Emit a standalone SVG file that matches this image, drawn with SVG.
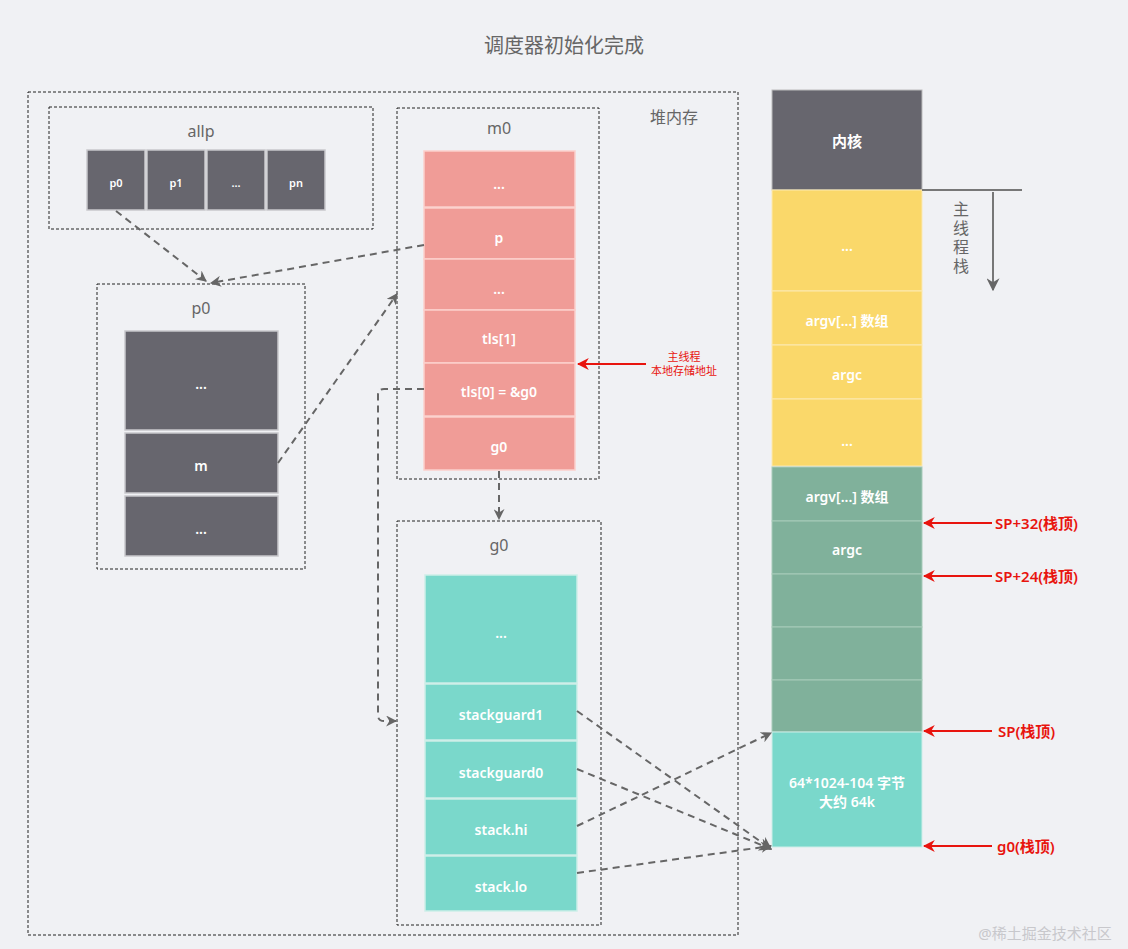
<svg xmlns="http://www.w3.org/2000/svg" width="1128" height="949" viewBox="0 0 1128 949">
<style>
text{font-family:"Noto Sans","Noto Sans CJK SC",sans-serif;text-anchor:middle;dominant-baseline:central}
.box{fill:none;stroke:#222;stroke-width:1;stroke-dasharray:3,2}
.lbl{fill:#666;font-size:16px}
.w{fill:#fff;font-size:14px;font-weight:600}
.dark{fill:#67666e;stroke:#c8c8cc;stroke-width:1.5}
.pink{fill:#f09c97;stroke:#fbd0cc;stroke-width:1.5}
.teal{fill:#7ad8cb;stroke:#cdeee8;stroke-width:1.5}
.yel{fill:#fad86a;stroke:#fbe9b2;stroke-width:1}
.grn{fill:#80b19b;stroke:#a7cbb9;stroke-width:1}
.con{fill:none;stroke:#666;stroke-width:2;stroke-dasharray:7,5}
.red{stroke:#e8140e;stroke-width:2;fill:none}
.rt{fill:#e8140e;font-size:15px;font-weight:600;text-anchor:start}
</style>
<defs>
<marker id="ga" viewBox="0 0 10 10" refX="9" refY="5" markerWidth="11" markerHeight="11" orient="auto" markerUnits="userSpaceOnUse">
<path d="M0,0 L10,5 L0,10 L3,5 z" fill="#666"/>
</marker>
<marker id="ra" viewBox="0 0 10 10" refX="9" refY="5" markerWidth="12" markerHeight="12" orient="auto" markerUnits="userSpaceOnUse">
<path d="M0,0 L10,5 L0,10 L3,5 z" fill="#e8140e"/>
</marker>
<marker id="da" viewBox="0 0 10 10" refX="9" refY="5" markerWidth="13" markerHeight="13" orient="auto" markerUnits="userSpaceOnUse">
<path d="M0,0 L10,5 L0,10 L3,5 z" fill="#666"/>
</marker>
</defs>
<rect width="1128" height="949" fill="#f0f1f4"/>
<text x="564" y="45" style="fill:#666;font-size:20px">调度器初始化完成</text>

<g id="heap">
<rect class="box" x="28" y="92" width="710" height="843"/>
<text class="lbl" x="674" y="117">堆内存</text>
</g>

<g id="allp">
<rect class="box" x="49" y="107" width="324" height="122"/>
<text class="lbl" x="201" y="131">allp</text>
<rect class="dark" x="87" y="150" width="58" height="60"/><text class="w" x="116" y="182" style="font-size:11px">p0</text>
<rect class="dark" x="147" y="150" width="58" height="60"/><text class="w" x="176" y="182" style="font-size:11px">p1</text>
<rect class="dark" x="207" y="150" width="58" height="60"/><text class="w" x="236" y="182" style="font-size:11px">...</text>
<rect class="dark" x="267" y="150" width="58" height="60"/><text class="w" x="296" y="182" style="font-size:11px">pn</text>
</g>

<g id="p0">
<rect class="box" x="97" y="284" width="208" height="285"/>
<text class="lbl" x="201" y="308">p0</text>
<rect class="dark" x="125" y="331" width="153" height="99"/><text class="w" x="201" y="383">...</text>
<rect class="dark" x="125" y="433" width="153" height="60"/><text class="w" x="201" y="465">m</text>
<rect class="dark" x="125" y="496" width="153" height="60"/><text class="w" x="201" y="528">...</text>
</g>

<g id="m0">
<rect class="box" x="397" y="108" width="202" height="371"/>
<text class="lbl" x="499" y="128">m0</text>
<rect class="pink" x="424" y="151" width="151" height="56"/><text class="w" x="499" y="183">...</text>
<rect class="pink" x="424" y="208" width="151" height="51"/><text class="w" x="499" y="237">p</text>
<rect class="pink" x="424" y="259" width="151" height="51"/><text class="w" x="499" y="288">...</text>
<rect class="pink" x="424" y="310" width="151" height="53"/><text class="w" x="499" y="338">tls[1]</text>
<rect class="pink" x="424" y="363" width="151" height="53"/><text class="w" x="499" y="391">tls[0] = &amp;g0</text>
<rect class="pink" x="424" y="417" width="151" height="53"/><text class="w" x="499" y="446">g0</text>
</g>

<g id="g0">
<rect class="box" x="397" y="521" width="204" height="404"/>
<text class="lbl" x="499" y="545">g0</text>
<rect class="teal" x="425" y="575" width="152" height="108"/><text class="w" x="501" y="632">...</text>
<rect class="teal" x="425" y="684" width="152" height="56"/><text class="w" x="501" y="714">stackguard1</text>
<rect class="teal" x="425" y="741" width="152" height="57"/><text class="w" x="501" y="772">stackguard0</text>
<rect class="teal" x="425" y="799" width="152" height="56"/><text class="w" x="501" y="829">stack.hi</text>
<rect class="teal" x="425" y="856" width="152" height="55"/><text class="w" x="501" y="886">stack.lo</text>
</g>

<g id="stack">
<rect x="772" y="90" width="150" height="100" fill="#67666e" stroke="#bbb" stroke-width="1"/><text class="w" x="847" y="141" style="font-size:15px">内核</text>
<rect class="yel" x="772" y="190" width="150" height="101"/><text class="w" x="847" y="245">...</text>
<rect class="yel" x="772" y="291" width="150" height="54"/><text class="w" x="847" y="320">argv[...] 数组</text>
<rect class="yel" x="772" y="345" width="150" height="54"/><text class="w" x="847" y="374">argc</text>
<rect class="yel" x="772" y="399" width="150" height="67"/><text class="w" x="847" y="440">...</text>
<rect class="grn" x="772" y="467" width="150" height="54"/><text class="w" x="847" y="496">argv[...] 数组</text>
<rect class="grn" x="772" y="521" width="150" height="53"/><text class="w" x="847" y="549">argc</text>
<rect class="grn" x="772" y="574" width="150" height="53"/>
<rect class="grn" x="772" y="627" width="150" height="53"/>
<rect class="grn" x="772" y="680" width="150" height="52"/>
<rect x="772" y="732" width="150" height="115" fill="#7ad8cb" stroke="#cdeee8" stroke-width="1"/>
<text class="w" x="847" y="782">64*1024-104 字节</text>
<text class="w" x="847" y="801">大约 64k</text>
</g>

<g id="mainstack">
<line x1="922" y1="190" x2="1022" y2="190" stroke="#777" stroke-width="2"/>
<line x1="993" y1="192" x2="993" y2="290" stroke="#777" stroke-width="2" marker-end="url(#da)"/>
<text x="960" y="201" writing-mode="vertical-rl" style="fill:#666;font-size:16px;letter-spacing:3px;text-anchor:start">主线程栈</text>
</g>

<g id="red-labels">
<line class="red" x1="646" y1="364" x2="578" y2="364" marker-end="url(#ra)"/>
<text class="rt" x="684" y="356" style="font-size:11px;font-weight:400;text-anchor:middle">主线程</text>
<text class="rt" x="684" y="370" style="font-size:11px;font-weight:400;text-anchor:middle">本地存储地址</text>
<line class="red" x1="992" y1="523" x2="924" y2="523" marker-end="url(#ra)"/>
<text class="rt" x="995" y="523">SP+32(栈顶)</text>
<line class="red" x1="992" y1="576" x2="924" y2="576" marker-end="url(#ra)"/>
<text class="rt" x="995" y="576">SP+24(栈顶)</text>
<line class="red" x1="992" y1="731" x2="924" y2="731" marker-end="url(#ra)"/>
<text class="rt" x="998" y="731">SP(栈顶)</text>
<line class="red" x1="992" y1="846" x2="924" y2="846" marker-end="url(#ra)"/>
<text class="rt" x="997" y="846">g0(栈顶)</text>
</g>

<g id="connectors">
<path class="con" d="M116,211 L206,281" marker-end="url(#ga)"/>
<path class="con" d="M424,245 L211,283" marker-end="url(#ga)"/>
<path class="con" d="M278,463 L397,294" marker-end="url(#ga)"/>
<path class="con" d="M424,389 L384,389 Q378,389 378,395 L378,715 Q378,721 384,721 L396,721" marker-end="url(#ga)"/>
<path class="con" d="M499,471 L499,519" marker-end="url(#ga)"/>
<path class="con" d="M577,711 L771,849" marker-end="url(#da)"/>
<path class="con" d="M577,769 L771,849" marker-end="url(#da)"/>
<path class="con" d="M577,826 L771,733" marker-end="url(#ga)"/>
<path class="con" d="M577,873 L771,846" marker-end="url(#ga)"/>
</g>

<text x="1045" y="933" style="fill:#c8c8cc;font-size:15px">@稀土掘金技术社区</text>
</svg>
